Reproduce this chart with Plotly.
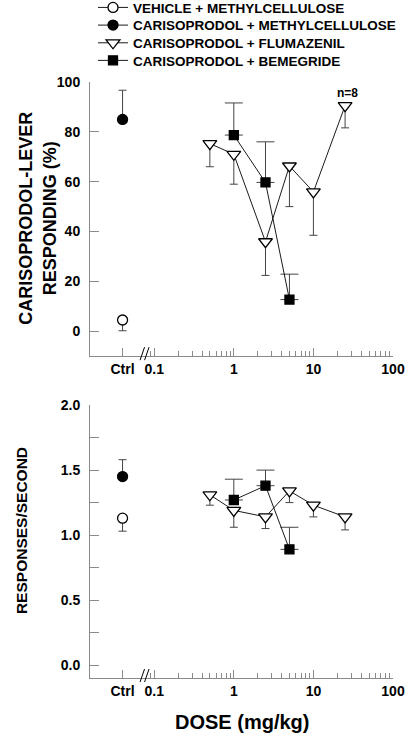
import plotly.graph_objects as go

# ---------------- data ----------------
ctrl_dose = [0.04]
flu_doses = [0.5, 1, 2.5, 5, 10, 25]
bem_doses = [1, 2.5, 5]

# top panel: carisoprodol-lever responding (%)
veh_pct = [4.5]; veh_pct_err = [4.3]
car_pct = [85]; car_pct_err = [11.7]
flu_pct = [75.3, 71, 35.9, 66.3, 55.9, 90.5]
flu_pct_err = [9.3, 12, 13.5, 16.3, 17.4, 8.9]
bem_pct = [78.7, 59.7, 12.7]
bem_pct_err = [12.9, 16.3, 10.2]

# bottom panel: responses/second
veh_rate = [1.13]; veh_rate_err = [0.10]
car_rate = [1.45]; car_rate_err = [0.13]
flu_rate = [1.31, 1.19, 1.14, 1.34, 1.23, 1.14]
flu_rate_err = [0.08, 0.13, 0.09, 0.09, 0.09, 0.10]
bem_rate = [1.27, 1.38, 0.89]
bem_rate_err = [0.16, 0.12, 0.17]

x_tickvals = [0.04, 0.1, 1, 10, 100]
x_ticktext = ["Ctrl", "0.1", "1", "10", "100"]
x_minor = [0.09] + [m * d for d in (0.1, 1, 10) for m in range(2, 10)]

names = ["VEHICLE + METHYLCELLULOSE", "CARISOPRODOL + METHYLCELLULOSE",
         "CARISOPRODOL + FLUMAZENIL", "CARISOPRODOL + BEMEGRIDE"]

FONT = "Liberation Sans, Arial, sans-serif"
ERRC = "#444444"
AXC = "#8a8a8a"

FW, FH = 410, 740
# plot area in pixel coords
PL, PR, PT, PB = 90, 392.7, 81.7, 678.0
H = PB - PT
def py(p):
    return (PB - p) / H
def px(p):
    return (p - PL) / (PR - PL)

fig = go.Figure()

def add(x, y, err, up, name, sym, fill, size, capw, yaxis, show, leg):
    e = dict(type="data", symmetric=False, color=ERRC, thickness=1, width=capw)
    if up:
        e.update(array=err, arrayminus=[0] * len(err))
    else:
        e.update(array=[0] * len(err), arrayminus=err)
    fig.add_trace(go.Scatter(
        x=x, y=y, mode="lines+markers", name=name, showlegend=show, legend=leg,
        line=dict(color="black", width=0.9),
        marker=dict(symbol=sym, size=size, color=fill,
                    line=dict(color="black", width=1.3)),
        error_y=e, xaxis="x" if yaxis == "y" else "x2", yaxis=yaxis,
        cliponaxis=False))

add(ctrl_dose, veh_pct, veh_pct_err, False, names[0], "circle", "white", 10, 4, "y", True, "legend")
add(ctrl_dose, car_pct, car_pct_err, True, names[1], "circle", "black", 10, 4, "y", True, "legend2")
add(flu_doses, flu_pct, flu_pct_err, False, names[2], "triangle-down", "white", 12, 4, "y", True, "legend3")
add(bem_doses, bem_pct, bem_pct_err, True, names[3], "square", "black", 9, 9, "y", True, "legend4")

add(ctrl_dose, veh_rate, veh_rate_err, False, names[0], "circle", "white", 10, 4, "y2", False, "legend")
add(ctrl_dose, car_rate, car_rate_err, True, names[1], "circle", "black", 10, 4, "y2", False, "legend2")
add(flu_doses, flu_rate, flu_rate_err, False, names[2], "triangle-down", "white", 12, 4, "y2", False, "legend3")
add(bem_doses, bem_rate, bem_rate_err, True, names[3], "square", "black", 9, 9, "y2", False, "legend4")

tickfont = dict(family=FONT, size=14, color="black", weight="bold")
xcommon = dict(type="log", range=[-1.807, 2], showline=True, linecolor=AXC, linewidth=1,
               ticks="inside", ticklen=8, tickcolor=AXC, tickwidth=1,
               tickmode="array", tickvals=x_tickvals, ticktext=x_ticktext,
               tickfont=tickfont, showgrid=False, zeroline=False,
               minor=dict(tickmode="array", tickvals=x_minor, ticks="inside",
                          ticklen=5, tickcolor=AXC, tickwidth=1, showgrid=False))
ycommon = dict(showline=True, linecolor=AXC, linewidth=1, ticks="inside", ticklen=9,
               tickcolor=AXC, tickwidth=1, tickfont=tickfont, showgrid=False,
               zeroline=False, ticklabelstandoff=6)

def legend_at(row_y):
    return dict(x=px(93), y=py(row_y), xanchor="left", yanchor="middle",
                bgcolor="rgba(0,0,0,0)", traceorder="normal",
                font=dict(family=FONT, size=13.5, color="black", weight="bold"),
                itemwidth=30, tracegroupgap=0, borderwidth=0)

fig.update_layout(
    width=FW, height=FH, autosize=False,
    margin=dict(l=PL, r=FW - PR, t=PT, b=FH - PB, autoexpand=False),
    plot_bgcolor="white", paper_bgcolor="white",
    font=dict(family=FONT, color="black"),
    xaxis=dict(anchor="y", **xcommon),
    xaxis2=dict(anchor="y2", **xcommon),
    yaxis=dict(domain=[py(356), 1], range=[-10, 100], tickmode="array",
               tickvals=[0, 20, 40, 60, 80, 100], anchor="x", **ycommon),
    yaxis2=dict(domain=[0, py(405)], range=[-0.1, 2.0], tickmode="array",
                tickvals=[0, 0.25, 0.5, 0.75, 1.0, 1.25, 1.5, 1.75, 2.0],
                ticktext=["0.0", "", "0.5", "", "1.0", "", "1.5", "", "2.0"],
                anchor="x2", **ycommon),
    legend=legend_at(7.3),
    legend2=legend_at(25.0),
    legend3=legend_at(42.7),
    legend4=legend_at(60.3),
    showlegend=True,
)

anns = [
    dict(text="CARISOPRODOL-LEVER<br>RESPONDING (%)", x=0, xref="paper", xanchor="center",
         xshift=37.5 - PL, y=py(218), yref="paper", yanchor="middle", textangle=-90,
         showarrow=False, font=dict(family=FONT, size=18, color="black", weight="bold")),
    dict(text="RESPONSES/SECOND", x=0, xref="paper", xanchor="center",
         xshift=21 - PL, y=py(531), yref="paper", yanchor="middle", textangle=-90,
         showarrow=False, font=dict(family=FONT, size=15.5, color="black", weight="bold")),
    dict(text="DOSE (mg/kg)", x=0.5, xref="paper", y=py(722), yref="paper",
         yanchor="middle", showarrow=False,
         font=dict(family=FONT, size=20, color="black", weight="bold")),
    dict(text="n=8", x=1.43, xref="x", y=95.5, yref="y", showarrow=False,
         yanchor="middle", font=dict(family=FONT, size=12, color="black", weight="bold")),
]
fig.update_layout(annotations=anns)

# axis break marks "//"
shapes = []
for axis_py in (356, 678):
    for x0 in (140, 144.5):
        shapes.append(dict(type="line", xref="paper", yref="paper",
                           x0=px(x0), x1=px(x0 + 4.5), y0=py(axis_py + 4), y1=py(axis_py - 9),
                           line=dict(color="black", width=1)))
fig.update_layout(shapes=shapes)

fig.write_html("out.html",
               config={"displayModeBar": False},
               post_script="document.body.style.margin='0';document.body.style.padding='0';"
                           "document.documentElement.style.overflow='hidden';")
